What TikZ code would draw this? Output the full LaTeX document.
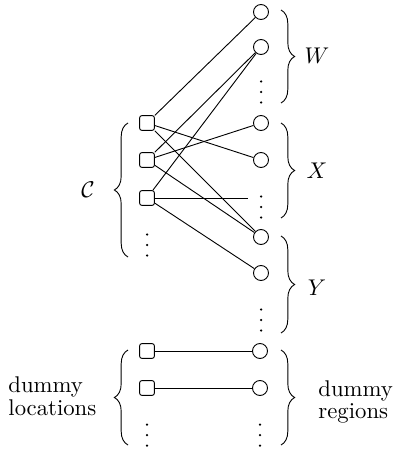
\documentclass[tikz,border=0pt]{standalone}
\usepackage{amsmath,amssymb}
\usetikzlibrary{positioning, decorations.pathreplacing, calc}

% three stacked dots at a named coordinate
\newcommand{\vdotsat}[1]{%
  \foreach \dy in {-10.5,0,10.5} {\fill ($(#1)+(0,\dy)$) circle (0.55pt);}}

\begin{document}
\begin{tikzpicture}[
  x=0.44pt, y=-0.44pt,
  loc/.style={
    draw, rounded corners=1pt, inner sep=0pt,
    minimum width=6.5pt, minimum height=6.5pt
  },
  reg/.style={
    draw, circle, inner sep=0pt, minimum size=6.6pt
  },
  brc/.style={decorate, decoration={brace, amplitude=6pt}},
  lbl/.style={inner sep=0pt},
]
\useasboundingbox (0,0) rectangle (393,450);

% ===== Locations (left) =====
\node[loc] (l1) at (147,123) {};
\node[loc] (l2) at (147,160) {};
\node[loc] (l3) at (147,198) {};
\coordinate (ldots) at (147,245);

% ===== Regions (right) =====
\node[reg] (r1) at (261,12) {};
\node[reg] (r2) at (261,47) {};
\coordinate (wdots) at (261,92);
\node[reg] (r3) at (261,123) {};
\node[reg] (r4) at (261,160) {};
\coordinate (xdots) at (261,207);
\node[reg] (r5) at (261,237) {};
\node[reg] (r6) at (261,273) {};
\coordinate (ydots) at (261,320);

% ===== Dummies =====
\node[loc] (dl1) at (147,351) {};
\node[loc] (dl2) at (147,388) {};
\coordinate (dldots) at (147,435);
\node[reg] (dr1) at (260,351) {};
\node[reg] (dr2) at (260,388) {};
\coordinate (drdots) at (260,435);

\vdotsat{ldots}
\vdotsat{wdots}
\vdotsat{xdots}
\vdotsat{ydots}
\vdotsat{dldots}
\vdotsat{drdots}

\coordinate (cut) at (248,198);

% ===== Edges =====
\draw (l1) -- (r1);
\draw (l1) -- (r4);
\draw (l1) -- (r5);
\draw (l2) -- (r2);
\draw (l2) -- (r3);
\draw (l2) -- (r5);
\draw (l3) -- (r2);
\draw (l3.east) -- (cut);
\draw (l3) -- (r6);
\draw (dl1) -- (dr1);
\draw (dl2) -- (dr2);

% ===== Braces =====
\draw[brc] (281,10) -- (281,103);
\draw[brc] (281,123) -- (281,218);
\draw[brc] (281,236) -- (281,333);
\draw[brc] (281,350) -- (281,445);
\draw[brc] (128,257) -- (128,123);
\draw[brc] (128,445) -- (128,350);

% ===== Labels =====
\node[lbl] (wl) at (317,56) {$W$};
\node[lbl] (xl) at (317,171) {$X$};
\node[lbl] (yl) at (317,288) {$Y$};
\node[lbl] (cl) at (88,190) {$\mathcal{C}$};
\node[lbl, anchor=west, align=left] (dloc) at (8,396) {dummy\\[-2pt]locations};
\node[lbl, anchor=west, align=left] (dreg) at (318,402) {dummy\\[-2pt]regions};

\end{tikzpicture}
\end{document}
